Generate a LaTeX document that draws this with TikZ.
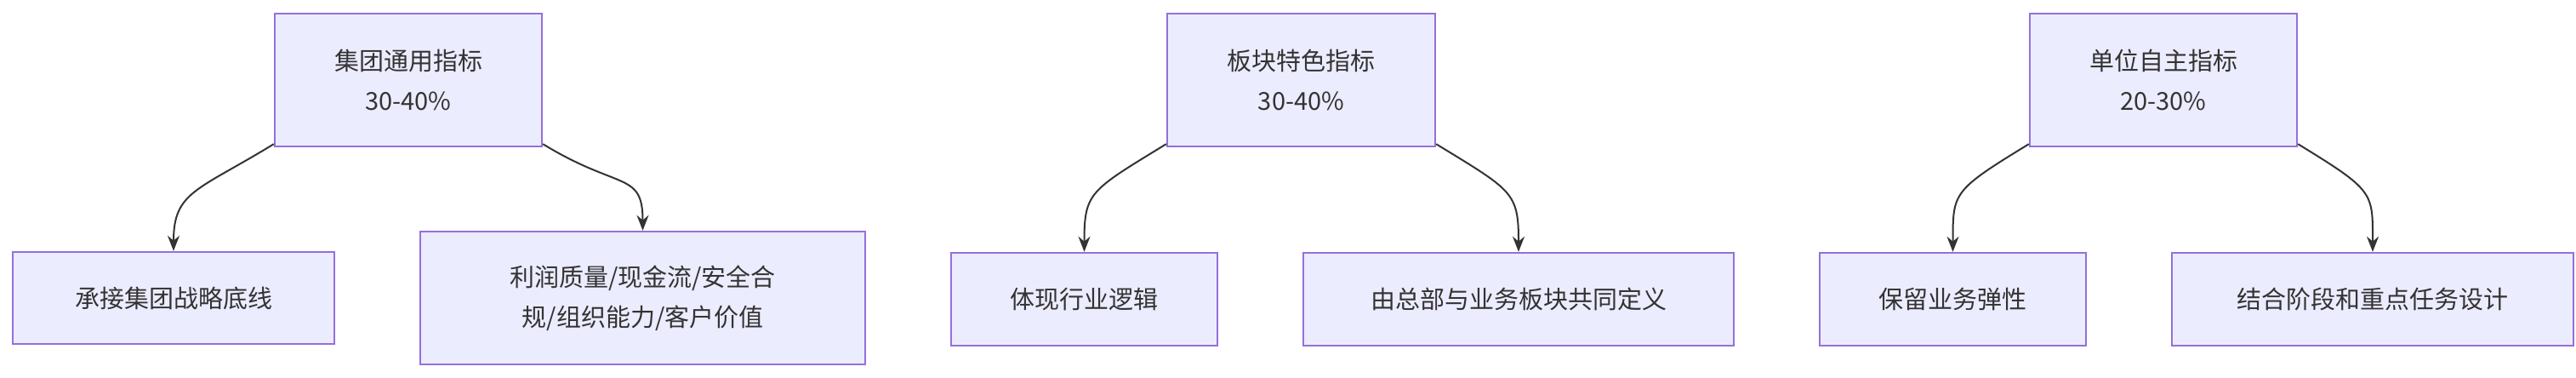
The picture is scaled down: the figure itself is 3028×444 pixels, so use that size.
\documentclass[tikz,border=0pt]{standalone}
\usepackage{fontspec}
\setmainfont{Noto Sans CJK SC}
\usetikzlibrary{arrows.meta}
\definecolor{nfill}{HTML}{ECECFF}
\definecolor{nline}{HTML}{9370DB}
\definecolor{aline}{HTML}{333333}
\begin{document}
\begin{tikzpicture}[x=0.5pt,y=-0.5pt,
  box/.style={draw=nline,fill=nfill,line width=1.2pt,inner sep=0pt,align=center,
    font=\fontsize{14.5}{23.5}\selectfont,text=aline},
  conn/.style={draw=aline,line width=1pt,-{Stealth[length=9pt,width=7pt]}}]
\useasboundingbox (0,0) rectangle (3028,444);
\newcommand{\bx}[6]{\node[box,minimum width={(#4-#2)*0.5pt},minimum height={(#5-#3)*0.5pt}] (#1) at ({(#2+#4)/2},{(#3+#5)/2}) {#6};}
\bx{a}{323}{16}{637}{172}{集团通用指标\\30-40\%}
\bx{a1}{15}{296}{393}{404}{承接集团战略底线}
\bx{a2}{494}{272}{1017}{428}{利润质量/现金流/安全合\\规/组织能力/客户价值}
\bx{b}{1372}{16}{1687}{172}{板块特色指标\\30-40\%}
\bx{b1}{1118}{297}{1431}{406}{体现行业逻辑}
\bx{b2}{1532}{297}{2038}{406}{由总部与业务板块共同定义}
\bx{c}{2386}{16}{2700}{172}{单位自主指标\\20-30\%}
\bx{c1}{2139}{297}{2452}{406}{保留业务弹性}
\bx{c2}{2553}{297}{3025}{406}{结合阶段和重点任务设计}
\foreach \p/\q/\r in {a/a1/a2,b/b1/b2,c/c1/c2}{
  \draw[conn] ([yshift=2pt]\p.south west) .. controls +(-90,55) and +(0,-70) .. (\q.north);
  \draw[conn] ([yshift=2pt]\p.south east) .. controls +(90,55) and +(0,-70) .. (\r.north);
}
\end{tikzpicture}
\end{document}
